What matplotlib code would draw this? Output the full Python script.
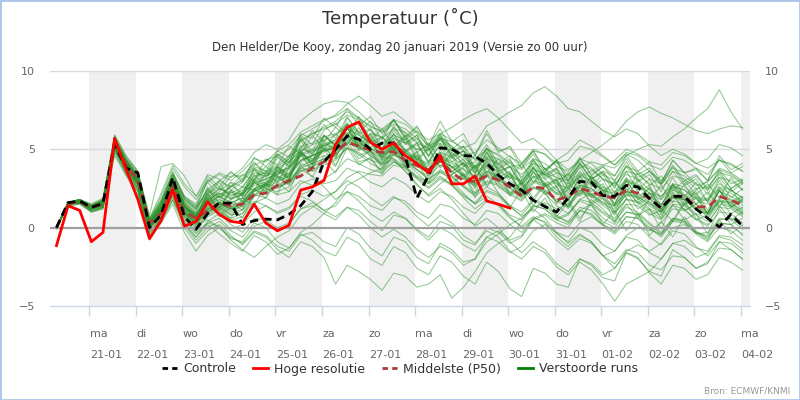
import matplotlib
matplotlib.use("Agg")
import matplotlib.pyplot as plt
import pandas as pd
from matplotlib.patches import Rectangle
from matplotlib.lines import Line2D

# ---------------- data ----------------
times = pd.date_range("2019-01-20 07:00", periods=60, freq="6h")
day_ticks = pd.date_range("2019-01-21", "2019-02-04", freq="D")
day_names = ["ma", "di", "wo", "do", "vr", "za", "zo", "ma", "di", "wo", "do", "vr", "za", "zo", "ma"]
day_dates = ["21-01", "22-01", "23-01", "24-01", "25-01", "26-01", "27-01", "28-01", "29-01",
             "30-01", "31-01", "01-02", "02-02", "03-02", "04-02"]
y_ticks = [-5, 0, 5, 10]

control = [0.0, 1.6, 1.7, 1.3, 1.55, 5.3, 3.8, 3.5, 0.0, 0.8, 3.2, 0.7,
           -0.1, 0.9, 1.6, 1.55, 0.2, 0.45, 0.55, 0.5, 0.85, 1.4, 2.3, 4.2,
           5.0, 5.85, 5.65, 5.0, 5.4, 5.4, 4.5, 1.9, 3.35, 5.1, 5.0, 4.6,
           4.55, 4.1, 3.35, 2.8, 2.4, 1.75, 1.35, 1.0, 1.9, 2.95, 2.9, 2.05,
           2.0, 2.7, 2.6, 1.85, 1.25, 2.0, 2.0, 1.2, 0.6, 0.05, 0.85, 0.1]

hires = [-1.15, 1.4, 1.1, -0.9, -0.3, 5.7, 3.7, 1.8, -0.7, 0.45, 2.4, 0.1,
         0.4, 1.65, 0.85, 0.4, 0.3, 1.5, 0.3, -0.2, 0.15, 2.4, 2.6, 3.0,
         5.3, 6.4, 6.75, 5.45, 5.0, 5.4, 4.6, 4.1, 3.5, 4.6, 2.8, 2.8,
         3.3, 1.7, 1.5, 1.25]

median = [0.0, 1.55, 1.65, 1.3, 1.5, 5.5, 4.0, 3.0, 0.3, 0.9, 2.6, 1.0,
          0.6, 1.1, 1.55, 1.4, 1.5, 2.1, 2.2, 2.7, 3.0, 3.3, 3.8, 4.2,
          4.8, 5.45, 5.2, 4.95, 4.8, 4.85, 4.3, 3.95, 3.7, 4.3, 3.5, 3.0,
          2.95, 3.3, 3.05, 2.6, 2.0, 2.6, 2.5, 1.75, 2.0, 2.5, 2.3, 2.0,
          1.9, 2.4, 2.2, 1.9, 1.25, 2.0, 2.0, 1.35, 1.3, 2.0, 1.75, 1.45]

perturbed_runs = [
 [0.0,1.5,1.7,1.2, 1.6,5.6,4.1,3.2, 0.1,1.0,2.9,1.0, 0.5,1.9,1.2,2.4, 1.7,3.0,2.2,3.6, 3.1,4.6,3.8,5.3, 4.6,6.0,5.1,5.6, 4.4,5.2,3.9,4.6, 3.2,4.5,2.9,3.4, 2.2,3.9,2.6,2.1, 3.0,1.9,2.8,1.6, 2.9,2.1,3.3,2.4, 1.5,2.7,1.8,2.6, 1.0,2.3,1.4,1.9, 0.9,2.4,1.3,1.8],
 [-0.1,1.6,1.7,1.4, 1.8,5.9,4.6,3.6, 0.5,2.0,3.8,2.6, 1.8,2.9,3.4,3.0, 3.6,4.4,4.2,4.9, 5.3,6.1,6.5,6.9, 7.1,7.6,7.0,6.4, 6.2,6.8,6.0,5.4, 5.0,5.8,5.2,4.6, 4.8,5.6,5.1,4.5, 4.1,5.0,4.7,3.9, 3.6,4.4,4.1,3.4, 3.0,3.9,3.6,3.1, 2.8,3.6,3.3,2.7, 2.9,3.8,3.5,3.0],
 [0.0,1.4,1.6,1.0, 1.3,5.0,3.5,2.4, -0.5,0.6,2.0,0.2, -0.8,0.0,0.4,-0.2, -0.6,0.3,0.0,-0.9, -1.3,-0.4,-0.8,-1.5, -1.8,-0.6,-1.0,-2.0, -2.4,-1.2,-1.6,-2.6, -3.0,-1.8,-2.2,-3.1, -3.6,-2.2,-2.8,-3.9, -4.4,-2.6,-2.9,-3.6, -3.8,-2.0,-2.4,-3.2, -3.4,-1.6,-2.0,-2.8, -3.1,-1.4,-1.9,-2.6, -2.3,-0.9,-1.4,-2.0],
 [0.0,1.6,1.8,1.5, 1.9,5.7,4.3,3.3, 0.4,1.6,3.3,1.8, 1.2,2.2,2.6,2.0, 2.4,3.3,3.5,3.9, 4.4,5.2,5.4,5.8, 6.0,6.6,6.1,5.6, 5.3,5.9,5.6,5.0, 4.9,5.7,5.5,5.1, 5.4,6.5,6.9,7.4, 7.8,8.6,9.0,8.4, 7.6,7.4,6.8,6.2, 5.8,6.3,6.0,5.2, 4.6,5.0,4.7,4.1, 3.8,4.3,4.0,3.6],
 [0.0,1.5,1.6,1.3, 1.5,5.2,3.8,2.8, 0.0,1.0,2.6,0.9, 0.3,1.0,1.5,1.2, 1.6,2.4,2.2,2.7, 3.1,3.8,3.6,4.0, 4.3,5.1,4.8,4.3, 4.1,4.7,4.2,3.7, 3.3,4.0,3.6,3.1, 2.7,3.4,3.0,2.6, 2.4,3.2,3.5,3.2, 3.0,3.8,4.2,4.0, 3.8,4.6,5.0,5.3, 5.2,5.8,6.3,7.0, 7.6,8.8,7.4,6.3],
 [0.0,1.6,1.7,1.3, 1.7,5.5,4.0,3.0, 0.2,1.3,3.0,1.3, 0.8,1.9,2.5,2.2, 2.6,3.5,3.3,3.8, 4.2,5.0,4.8,5.2, 5.6,6.3,5.9,5.4, 5.0,5.5,5.0,4.4, 4.0,4.6,4.2,3.7, 3.3,4.0,3.6,3.2, 3.0,3.7,3.4,3.0, 3.4,4.3,4.8,5.3, 5.9,6.8,7.4,7.7, 7.3,7.0,6.6,6.2, 6.0,6.3,6.5,6.4],
 [0.1,1.5,1.7,1.3, 1.4,5.3,3.9,2.9, 0.3,1.1,2.7,1.3, 0.9,2.2,1.0,0.6, 1.9,1.4,2.8,2.1, 3.9,4.8,4.1,5.9, 5.2,6.4,5.0,5.7, 4.3,5.6,4.0,4.9, 3.6,4.8,2.7,3.5, 1.9,3.4,2.2,1.3, 2.4,1.0,1.9,0.7, 1.6,0.4,1.8,1.2, 0.3,1.5,0.6,1.9, 1.2,0.4,1.7,0.6, 0.2,1.4,0.5,1.0],
 [0.0,1.6,1.6,1.2, 1.5,5.4,4.2,3.1, 0.3,1.4,3.1,1.5, 0.6,2.4,1.6,2.9, 2.0,3.7,3.2,4.6, 3.9,5.7,4.9,6.2, 6.7,5.9,7.1,5.6, 6.3,5.2,5.9,4.4, 5.1,3.8,4.6,3.1, 4.0,2.7,3.6,2.0, 2.8,1.4,2.3,0.9, 1.8,0.6,1.5,0.2, 1.1,-0.2,0.9,-0.5, 0.4,-0.6,0.7,-0.3, -0.8,0.5,-0.4,0.2],
 [-0.1,1.5,1.6,1.1, 1.3,5.1,3.7,2.6, -0.2,0.7,2.3,0.7, 0.0,0.8,1.2,0.6, 0.9,2.0,2.9,3.6, 4.4,5.5,6.0,6.3, 6.6,7.2,6.9,6.2, 5.7,6.3,6.1,5.5, 5.0,5.4,4.8,4.1, 3.5,4.1,3.8,3.0, 2.5,3.3,2.9,2.2, 2.6,3.4,3.0,2.4, 2.2,3.0,2.7,2.0, 1.5,2.4,2.1,1.5, 1.9,2.8,2.4,1.9],
 [0.0,1.5,1.6,1.2, 1.4,5.0,3.6,2.5, -0.4,0.5,1.8,0.3, -0.6,0.4,0.9,0.2, -0.3,0.6,0.5,0.0, 0.3,1.2,1.4,0.9, 0.5,1.3,1.1,0.4, -0.2,0.8,0.6,-0.1, -0.6,0.4,0.1,-0.8, -1.1,0.0,-0.3,-1.0, -0.6,0.5,0.8,0.3, 0.0,1.1,1.5,0.9, 0.4,1.3,1.0,0.3, -0.3,0.6,0.4,-0.4, -0.9,0.0,-0.2,-0.8],
 [0.0,1.6,1.8,1.4, 1.7,5.8,4.4,3.4, 0.6,1.8,3.6,2.0, 1.5,3.3,2.6,3.6, 2.9,4.5,3.9,4.7, 4.1,5.8,4.6,5.9, 5.3,6.7,5.6,6.3, 5.0,6.5,5.4,5.9, 4.6,6.0,4.9,5.2, 3.7,5.1,4.0,4.4, 3.1,4.3,3.4,3.8, 2.5,3.9,2.7,3.4, 2.2,3.6,2.4,3.1, 1.8,3.2,2.0,2.9, 1.6,3.0,1.9,2.5],
 [0.0,1.5,1.6,1.2, 1.4,5.1,3.8,2.7, -0.1,0.9,2.4,0.8, 0.2,0.5,0.0,-0.6, -1.0,-0.2,-0.5,-1.2, -1.5,-0.5,-0.3,-0.9, -1.2,0.0,-0.4,-1.3, -1.8,-0.6,-0.9,-1.9, -2.3,-1.0,-1.4,-2.2, -2.0,-0.6,-0.2,-0.8, -0.5,0.6,0.9,0.5, 0.8,1.8,2.2,1.6, 1.4,2.3,2.0,1.5, 1.2,2.0,1.8,1.1, 0.9,1.7,1.5,0.9],
 [0.0,1.6,1.7,1.3, 1.6,5.5,4.1,3.1, 0.3,1.3,3.0,1.4, 0.7,2.1,1.3,1.8, 2.2,3.3,2.6,3.9, 3.3,4.9,4.2,5.8, 5.2,7.0,6.1,6.8, 5.6,6.9,5.8,6.5, 5.2,6.8,5.5,6.0, 4.6,6.2,4.9,5.1, 3.8,4.7,3.5,4.3, 3.0,4.4,3.4,3.9, 3.3,4.6,3.6,4.2, 2.9,4.3,3.5,3.7, 3.0,4.4,3.5,3.9],
 [0.0,1.5,1.7,1.3, 1.5,5.4,4.0,3.0, 0.2,1.2,2.8,1.2, 0.5,1.2,1.6,1.1, 1.4,2.3,2.7,3.0, 3.3,4.3,4.6,4.9, 5.1,5.9,5.5,4.9, 4.3,4.8,4.2,3.5, 2.8,3.3,2.7,1.9, 1.2,1.8,1.4,0.6, 0.1,0.7,0.3,-0.6, -1.2,-0.5,-0.9,-1.8, -2.6,-1.6,-1.9,-2.9, -3.6,-2.4,-2.6,-3.3, -3.0,-1.9,-2.2,-2.7],
 [0.0,1.5,1.6,1.1, 1.3,5.0,3.6,2.5, -0.3,0.6,2.1,0.5, -0.3,0.3,0.6,-0.1, 0.2,1.0,1.4,1.0, 1.3,2.1,2.4,2.0, 2.3,3.0,2.6,1.9, 1.4,2.0,1.5,0.7, 0.1,0.8,0.3,-0.5, -1.0,-0.2,-0.6,-1.5, -2.0,-1.2,-1.6,-2.5, -3.0,-2.2,-2.7,-3.6, -4.7,-3.6,-3.2,-2.8, -2.0,-1.0,-0.8,-1.3, -1.5,-0.5,-0.6,-1.1],
 [0.0,1.6,1.8,1.5, 1.8,5.9,4.5,3.6, 0.6,2.2,4.0,2.8, 2.0,3.0,3.5,3.2, 3.8,4.8,5.3,5.0, 5.6,6.8,7.4,7.9, 8.1,8.0,7.4,6.7, 6.3,6.9,6.6,6.0, 5.2,5.6,5.0,4.3, 3.8,4.4,4.0,3.4, 3.0,3.8,3.4,2.8, 2.5,3.3,3.0,2.4, 2.1,2.9,2.7,2.2, 1.8,2.6,2.4,1.8, 1.5,2.3,2.0,1.6],
 [0.0,1.5,1.7,1.3, 1.6,5.5,4.2,3.2, 0.4,1.6,3.4,1.9, 1.3,2.4,3.0,2.6, 3.1,4.0,4.3,4.6, 5.0,5.9,6.3,6.8, 7.2,7.9,8.4,7.8, 7.1,7.4,6.8,6.1, 5.6,6.0,5.6,4.9, 4.4,5.0,4.6,3.9, 3.4,4.1,3.8,3.2, 2.8,3.5,3.2,2.6, 2.3,3.1,2.8,2.2, 2.0,2.7,2.4,1.9, 1.7,2.5,2.2,1.7],
 [0.0,1.5,1.6,1.1, 1.3,4.8,3.4,2.3, -0.6,0.4,1.7,0.0, -1.0,-0.2,0.2,-0.5, -1.1,-0.3,-0.6,-1.4, -1.9,-0.9,-1.2,-1.9, -3.6,-2.4,-2.8,-3.3, -4.0,-2.9,-3.1,-3.8, -3.6,-3.0,-4.5,-3.8, -2.8,-1.6,-1.0,-0.6, 0.4,1.3,1.6,1.2, 1.5,2.4,2.1,1.6, 1.0,1.8,1.6,0.9, 0.5,1.4,1.2,0.5, 0.8,1.6,1.4,0.9],
 [0.0,1.6,1.7,1.4, 1.7,5.6,4.3,3.3, 0.4,1.5,3.2,1.7, 1.1,2.5,1.6,1.2, 2.3,3.1,3.9,3.3, 4.6,5.0,6.2,5.5, 6.4,5.8,6.8,5.4, 5.8,4.9,5.7,4.3, 5.0,3.9,4.8,3.3, 3.9,2.6,3.5,2.2, 2.9,1.7,2.8,1.5, 2.5,2.0,3.1,2.3, 2.9,2.2,3.5,2.7, 3.3,2.4,3.0,2.1, 2.8,1.9,3.2,2.4],
 [0.0,1.5,1.6,1.2, 1.4,5.2,3.9,2.8, 0.0,1.0,2.5,0.9, 0.3,1.3,2.1,2.6, 3.0,3.9,3.6,3.2, 2.8,3.6,3.9,4.4, 4.9,5.6,5.2,4.6, 4.1,4.4,3.9,3.2, 2.6,3.2,2.8,2.1, 1.5,2.3,2.0,1.3, 0.8,1.7,1.4,0.7, 0.4,1.3,1.1,0.4, 0.0,1.0,0.9,0.2, -0.4,0.6,0.5,-0.2, -0.7,0.3,0.2,-0.5],
 [0.0,1.6,1.7,1.3, 1.6,5.5,4.0,3.0, 0.2,1.2,2.9,1.3, 0.7,2.0,2.9,1.8, 2.6,2.4,3.5,2.9, 4.2,4.9,4.0,5.1, 4.5,5.8,4.6,4.9, 4.0,5.5,4.4,4.8, 3.6,5.0,3.8,4.1, 2.7,4.2,3.0,3.3, 2.3,3.9,2.6,2.9, 1.7,3.3,2.1,2.6, 1.5,3.1,1.8,2.2, 1.1,2.6,1.5,2.0, 0.9,2.4,1.3,1.7],
 [0.0,1.5,1.6,1.2, 1.5,5.3,3.9,2.9, 0.1,1.1,2.6,1.0, 0.4,1.1,1.6,1.3, 1.6,2.5,2.8,2.6, 2.9,3.7,3.3,2.6, 1.8,2.3,1.7,0.9, 0.4,1.0,0.6,-0.2, -0.8,0.0,-0.4,-1.1, -1.5,-0.6,-0.9,-1.6, -1.2,-0.2,0.2,-0.3, -0.6,0.3,0.7,0.2, -0.3,0.7,0.6,-0.1, -0.4,0.5,0.4,-0.3, -0.6,0.3,0.2,-0.4],
 [0.0,1.6,1.7,1.3, 1.6,5.4,4.0,3.0, 0.2,1.3,3.0,1.5, 0.9,1.8,2.2,1.9, 2.1,3.0,3.3,3.6, 3.8,4.7,4.4,4.8, 5.2,5.8,5.4,5.0, 4.7,5.3,4.9,4.4, 4.1,4.8,4.5,4.0, 3.8,4.6,4.4,3.9, 4.0,4.9,4.7,4.1, 4.3,5.2,5.0,4.5, 4.0,4.8,4.6,4.0, 3.7,4.5,4.3,3.8, 3.4,4.3,4.1,3.6],
 [0.0,1.5,1.7,1.4, 1.6,5.6,4.2,3.1, 0.3,1.4,3.1,1.6, 0.9,1.8,0.7,1.3, 0.6,2.1,1.9,3.3, 3.0,4.8,4.2,5.6, 5.0,6.4,5.2,5.8, 4.7,6.0,4.9,5.4, 4.2,5.7,4.5,4.9, 3.5,4.8,3.6,3.9, 2.6,3.8,2.7,3.0, 1.7,2.9,1.9,2.3, 1.0,2.5,1.6,2.2, 1.4,2.8,2.0,2.5, 1.7,3.2,2.3,2.8],
 [0.0,1.6,1.7,1.2, 1.5,5.3,3.9,2.8, 0.0,0.9,2.5,0.8, 0.1,1.4,0.8,1.6, 1.1,2.5,1.9,2.9, 2.3,4.0,3.2,4.6, 3.9,5.5,4.4,4.9, 3.8,5.2,4.3,4.7, 3.4,4.7,3.5,4.2, 3.1,4.4,3.2,3.6, 2.1,3.6,2.3,2.7, 1.2,2.6,1.5,1.9, 0.4,1.9,0.8,1.2, -0.1,1.5,0.5,0.9, -0.4,1.2,0.2,0.6],
 [0.0,1.5,1.7,1.3, 1.7,5.7,4.4,3.5, 0.8,3.9,4.1,3.3, 2.0,3.4,3.1,2.4, 2.1,2.9,2.5,2.1, 2.3,3.0,2.7,3.1, 3.6,4.4,4.1,3.7, 3.5,4.2,3.9,3.3, 2.9,3.6,3.3,2.7, 2.2,3.0,2.8,2.2, 1.8,2.6,2.4,1.8, 1.4,2.3,2.1,1.5, 1.2,2.1,2.0,1.4, 1.0,1.9,1.8,1.2, 0.9,1.8,1.6,1.1],
 [0.0,1.4,1.5,1.0, 1.2,4.6,3.3,2.1, -0.8,0.3,1.5,-0.3, -1.5,-0.5,0.0,-0.7, -0.9,0.1,0.4,-0.2, 0.2,1.2,1.6,1.1, 1.4,2.3,2.0,1.4, 1.1,1.9,1.7,1.0, 0.6,1.5,1.3,0.6, 0.2,1.1,0.9,0.2, -0.3,0.6,0.4,-0.4, -0.9,0.0,-0.3,-1.1, -1.5,-0.6,-0.8,-1.6, -2.0,-1.0,-1.2,-1.9, -1.6,-0.6,-0.8,-1.4],
 [0.0,1.6,1.8,1.4, 1.7,5.6,4.2,3.2, 0.3,1.6,3.5,2.0, 1.4,2.9,2.0,2.6, 3.4,3.0,4.4,4.0, 5.2,4.7,5.9,5.0, 6.0,5.3,6.4,5.1, 5.8,5.0,5.9,4.8, 5.4,4.3,5.1,3.9, 4.6,3.5,4.4,3.1, 4.1,2.9,3.8,2.6, 3.5,2.3,3.3,2.1, 3.0,1.9,3.1,1.8, 2.7,1.6,2.8,1.5, 2.3,1.3,2.5,1.4],
 [0.0,1.5,1.7,1.3, 1.5,5.4,4.0,3.0, 0.1,1.1,2.8,1.1, 0.5,1.5,2.0,1.6, 1.9,2.7,2.9,3.4, 3.9,4.9,5.3,5.6, 5.9,6.5,6.0,5.4, 4.5,4.4,3.6,2.7, 2.1,2.8,3.4,3.9, 4.2,5.0,4.7,4.1, 3.7,4.4,4.1,3.5, 3.2,4.0,3.7,3.1, 2.8,3.6,3.4,2.8, 2.5,3.3,3.1,2.5, 2.6,3.5,3.3,2.8],
 [0.0,1.5,1.6,1.2, 1.4,5.2,3.8,2.8, 0.0,1.0,2.6,1.0, 0.3,1.0,1.3,0.8, 1.1,2.0,2.4,2.6, 2.9,3.8,4.1,4.4, 4.6,5.4,5.1,4.6, 4.0,4.3,3.6,2.8, 2.0,2.5,1.8,0.9, 0.1,0.6,0.0,-0.9, -1.6,-0.9,-1.4,-2.3, -2.8,-2.0,-2.3,-3.0, -2.6,-1.5,-1.1,-1.5, -1.0,0.0,0.2,-0.3, -0.5,0.5,0.6,0.1],
 [0.0,1.6,1.7,1.3, 1.6,5.5,4.1,3.1, 0.2,1.2,2.9,1.3, 0.6,2.2,1.5,2.3, 2.0,3.4,2.7,3.9, 3.1,4.7,4.0,5.4, 5.0,6.6,5.3,6.0, 5.8,6.9,5.7,6.4, 5.3,6.3,5.0,5.6, 4.6,6.0,4.8,5.2, 4.1,4.9,3.7,4.2, 3.0,4.1,3.1,3.6, 3.3,4.4,3.4,3.8, 2.8,4.0,3.0,3.4, 2.5,3.7,2.8,3.1],
 [0.0,1.5,1.6,1.2, 1.4,5.1,3.7,2.7, -0.1,0.8,2.3,0.6, -0.2,0.7,1.1,0.5, 0.7,1.6,1.9,1.5, 1.8,2.8,3.1,2.8, 3.0,3.8,3.5,2.9, 2.6,3.2,2.8,2.1, 1.6,2.3,2.0,1.3, 0.9,1.7,1.5,0.8, 0.5,1.4,1.2,0.5, 0.2,1.1,0.9,0.2, -0.2,0.7,0.6,-0.1, -0.5,0.4,0.3,-0.4, -0.3,0.6,0.5,-0.1],
 [0.0,1.6,1.7,1.3, 1.6,5.5,4.1,3.1, 0.3,1.4,3.1,1.5, 0.8,1.7,2.2,1.8, 2.1,2.9,3.1,3.5, 3.8,4.7,5.0,5.3, 5.6,6.3,5.9,5.4, 5.1,5.7,5.4,5.0, 5.2,6.0,6.4,6.9, 7.3,7.6,7.0,6.2, 5.4,5.7,5.1,4.3, 3.7,4.2,3.8,3.1, 2.7,3.4,3.1,2.4, 2.0,2.8,2.6,2.0, 1.8,2.6,2.4,1.9],
 [0.0,1.5,1.7,1.3, 1.5,5.3,3.9,2.9, 0.1,1.0,2.6,0.9, 0.2,1.0,1.4,0.9, 1.2,2.1,2.5,2.3, 2.6,3.6,3.9,4.2, 4.4,5.1,4.7,4.1, 3.7,4.2,3.8,3.1, 2.5,3.1,2.7,2.0, 1.6,2.4,2.1,1.4, 1.0,1.8,1.5,0.8, 0.3,1.1,0.8,0.1, -0.4,0.4,0.2,-0.6, -1.1,-0.2,-0.4,-1.2, -1.8,-0.9,-1.0,-1.6],
 [0.0,1.6,1.8,1.4, 1.8,5.7,4.3,3.3, 0.5,1.7,3.4,1.9, 1.3,2.4,1.9,2.7, 2.2,3.8,3.0,4.5, 3.9,5.6,4.3,5.0, 4.0,5.3,4.2,4.4, 3.6,5.1,4.1,4.6, 3.4,4.8,3.6,4.1, 3.0,4.5,3.4,3.9, 2.8,4.3,3.2,3.7, 2.6,4.1,3.1,3.5, 2.5,4.0,3.2,3.6, 2.8,4.3,3.5,3.8, 3.0,4.6,3.7,4.1],
 [0.0,1.5,1.6,1.2, 1.4,5.2,3.8,2.8, 0.0,1.0,2.6,0.9, 0.3,1.1,1.5,1.0, 1.4,2.3,2.6,2.9, 3.3,4.2,4.6,4.9, 5.2,5.9,5.5,4.9, 4.6,5.2,4.8,4.3, 3.7,4.3,3.9,3.2, 2.6,3.3,2.9,2.3, 2.0,2.8,3.6,4.3, 4.8,5.6,5.2,4.6, 4.0,4.7,4.3,3.6, 3.0,3.8,3.5,2.8, 2.4,3.2,3.0,2.4],
 [0.0,1.6,1.7,1.3, 1.6,5.4,4.0,3.0, 0.2,1.2,2.8,1.2, 0.6,1.7,2.5,2.1, 2.2,3.1,3.6,4.0, 4.6,5.6,6.0,6.4, 6.8,7.4,7.0,6.5, 6.1,6.6,6.3,5.7, 5.0,5.6,5.2,4.5, 3.9,4.5,4.1,3.4, 2.8,3.5,3.1,2.4, 1.9,2.7,2.5,1.8, 1.3,2.1,1.9,1.2, 0.8,1.7,1.5,0.9, 0.6,1.5,1.3,0.8],
 [0.0,1.4,1.5,1.0, 1.2,4.8,3.4,2.3, -0.7,0.4,1.8,0.2, -0.6,0.2,-0.4,-1.0, -1.5,-0.5,-0.9,-1.7, -1.3,-0.3,0.2,0.9, 1.6,2.7,3.1,3.5, 3.8,4.6,4.4,3.9, 3.5,4.2,3.9,3.3, 2.8,3.6,3.3,2.7, 2.2,3.0,2.8,2.2, 1.8,2.7,2.5,1.9, 1.4,2.3,2.2,1.6, 1.0,1.9,1.8,1.2, 0.8,1.7,1.6,1.0],
 [0.0,1.5,1.7,1.3, 1.5,5.4,4.0,3.0, 0.2,1.3,3.0,1.4, 0.8,1.6,2.3,2.9, 2.6,3.7,2.8,3.3, 2.7,4.1,3.8,5.1, 4.4,6.0,4.9,5.5, 4.5,5.8,4.8,5.3, 4.1,5.4,4.2,4.7, 3.4,4.9,3.7,4.2, 2.8,4.1,3.1,3.5, 2.2,3.6,2.6,3.1, 1.8,3.2,2.3,2.7, 1.4,2.8,1.9,2.3, 1.1,2.6,1.7,2.0],
 [0.0,1.6,1.7,1.3, 1.6,5.5,4.1,3.1, 0.3,1.3,3.0,1.4, 0.7,1.6,2.0,1.6, 1.9,2.8,3.1,3.4, 3.7,4.6,4.9,5.2, 5.5,6.1,5.7,5.1, 4.6,5.0,4.4,3.7, 3.1,3.6,3.0,2.2, 1.5,2.0,1.5,0.7, 0.0,0.5,0.0,-0.8, -1.4,-0.7,-1.0,-1.8, -2.3,-1.4,-1.6,-2.4, -2.7,-1.8,-1.9,-2.6, -2.2,-1.3,-1.4,-2.0],
 [0.0,1.5,1.6,1.2, 1.5,5.3,3.9,2.9, 0.1,1.1,2.7,1.1, 0.5,1.9,1.1,1.7, 1.3,2.9,2.3,3.7, 3.1,4.7,3.6,4.3, 3.5,5.1,4.0,4.5, 3.4,4.8,3.9,4.2, 2.9,4.4,3.4,3.8, 2.5,4.0,2.9,3.5, 2.1,3.6,2.6,3.1, 1.8,3.3,2.3,2.8, 1.5,3.0,2.0,2.5, 1.2,2.7,1.7,2.2, 0.9,2.4,1.6,1.9],
 [0.0,1.5,1.7,1.3, 1.5,5.4,4.0,3.0, 0.2,1.2,2.8,1.2, 0.6,1.4,1.8,1.4, 1.7,2.5,2.8,3.2, 3.5,4.3,4.6,4.9, 5.1,5.7,5.3,4.8, 4.5,5.1,4.8,4.3, 3.9,4.5,4.1,3.4, 2.9,3.6,3.2,2.5, 1.9,2.6,2.2,1.4, 0.9,1.7,1.4,0.6, 0.2,1.0,0.8,0.0, -0.6,0.4,1.5,2.4, 3.0,3.7,3.4,2.9],
 [0.0,1.6,1.7,1.3, 1.6,5.6,4.2,3.2, 0.4,1.5,3.2,1.6, 1.0,2.6,1.9,2.4, 2.9,3.8,3.4,4.7, 4.2,5.9,5.3,6.6, 5.7,7.1,6.0,6.3, 5.3,6.4,5.4,5.9, 4.5,5.8,4.6,4.9, 3.6,4.8,3.6,3.9, 2.7,3.9,2.8,3.1, 2.0,3.1,2.0,2.4, 1.4,2.5,1.5,1.9, 0.9,2.1,1.1,1.5, 0.6,1.8,0.9,1.3],
 [0.0,1.5,1.6,1.2, 1.4,5.2,3.8,2.8, 0.0,1.0,2.6,1.0, 0.3,1.2,1.6,1.2, 1.5,2.4,2.8,3.1, 3.4,4.3,4.6,5.0, 5.3,6.0,5.6,5.1, 4.7,5.2,4.8,4.2, 3.7,4.3,3.9,3.3, 2.8,3.5,3.1,2.5, 2.1,2.9,2.7,2.1, 2.4,3.3,3.6,4.0, 4.3,5.0,4.7,4.2, 4.0,4.8,4.6,4.1, 4.4,5.3,5.1,4.6],
 [0.0,1.5,1.6,1.2, 1.4,5.1,3.7,2.7, -0.1,0.9,2.4,0.7, 0.0,0.9,1.3,0.8, 0.9,1.7,1.4,0.9, 1.2,2.0,1.7,1.1, 0.7,1.3,0.8,0.0, -0.6,-0.1,-0.6,-1.4, -1.9,-1.2,-1.6,-2.4, -2.0,-0.9,-0.4,0.2, 0.6,1.4,1.2,0.6, 0.9,1.8,1.6,1.0, 0.6,1.5,1.4,0.8, 1.1,2.0,1.9,1.3, 1.0,1.9,1.8,1.2],
 [0.0,1.6,1.8,1.4, 1.7,5.7,4.3,3.3, 0.5,1.7,3.4,1.8, 1.2,3.1,2.4,3.3, 3.3,4.1,3.6,4.9, 4.5,6.0,5.7,7.0, 6.4,7.6,6.5,7.1, 6.0,6.9,5.6,6.2, 5.1,5.9,4.6,5.2, 4.3,5.3,4.1,4.6, 3.8,4.9,3.7,4.3, 3.3,4.5,3.3,3.9, 3.0,4.2,3.0,3.6, 2.7,3.9,2.8,3.3, 2.4,3.6,2.5,3.0],
 [0.0,1.5,1.6,1.2, 1.5,5.3,3.9,2.9, 0.1,1.1,2.7,1.0, 0.4,1.2,1.6,1.2, 1.5,2.4,2.7,2.5, 2.9,3.9,4.3,4.6, 4.8,5.5,5.2,4.7, 4.2,4.7,4.3,3.7, 3.1,3.7,3.3,2.6, 2.0,2.6,2.2,1.4, 0.7,1.2,0.6,-0.3, -1.0,-0.4,-0.9,-1.8, -1.5,-0.5,0.0,-0.2, 0.3,1.2,1.1,0.5, 0.1,1.0,0.9,0.3],
 [0.0,1.6,1.7,1.3, 1.6,5.5,4.1,3.1, 0.3,1.3,3.0,1.4, 0.7,2.2,3.0,3.5, 3.1,4.2,3.3,3.9, 3.4,5.2,4.7,5.9, 5.3,6.6,5.6,6.0, 5.0,6.2,5.3,5.7, 4.6,5.7,4.4,4.9, 3.9,5.1,3.8,4.3, 3.2,4.4,3.3,3.8, 2.9,4.1,3.1,3.6, 2.6,3.9,2.9,3.4, 2.3,3.6,2.7,3.1, 2.1,3.4,2.5,2.9],
 [0.0,1.5,1.6,1.1, 1.3,5.0,3.6,2.5, -0.3,0.6,2.0,0.4, -0.4,0.3,0.1,-0.8, -1.4,-1.9,-1.2,-0.6, -0.2,0.8,1.3,1.8, 2.3,3.2,3.6,3.4, 3.3,4.0,3.8,3.2, 2.8,3.5,3.2,2.6, 2.1,2.9,2.7,2.1, 1.7,2.5,2.3,1.7, 1.3,2.2,2.0,1.4, 0.9,1.8,1.7,1.1, 0.6,1.5,1.4,0.8, 0.4,1.3,1.2,0.7],
 [0.0,1.6,1.7,1.3, 1.6,5.4,4.0,3.0, 0.2,1.2,2.9,1.3, 0.7,2.0,1.3,2.3, 1.6,3.1,2.5,3.8, 3.2,4.9,4.0,5.5, 4.8,6.4,5.2,5.9, 4.9,6.0,4.9,5.4, 4.2,5.3,3.8,4.4, 3.0,4.3,3.0,3.4, 2.0,3.3,2.1,2.6, 1.3,2.7,1.6,2.1, 0.8,2.3,1.2,1.7, 0.6,2.2,1.1,1.5, 0.9,2.4,1.4,1.8],
]

# ---------------- styling ----------------
TXT = "#333333"
LBL = "#666666"
AXC = "#ccd6eb"

fig = plt.figure(figsize=(8, 4), dpi=100)
ax = fig.add_axes([50 / 800, 1 - 306 / 400, 700 / 800, 235 / 400])

x_left = pd.Timestamp("2019-01-20 03:40")
x_right = pd.Timestamp("2019-02-04 04:50")
ax.set_xlim(x_left, x_right)
ax.set_ylim(-5, 10)

# alternating day bands
for k, d in enumerate(day_ticks):
    if k % 2 == 0:
        ax.axvspan(d, min(d + pd.Timedelta(days=1), x_right), color="#f0f0f0", lw=0, zorder=0)

for yv in [5, 10]:
    ax.axhline(yv, color="#d9d9d9", lw=1, zorder=0.5)
ax.axhline(0, color="#a0a0a0", lw=1.6, zorder=2.5)

for run in perturbed_runs:
    ax.plot(times, run, color="#2a922a", lw=0.75, alpha=0.5, zorder=2)

ax.plot(times, median, color="#b03a3a", lw=2, ls=(0, (3, 1.8)), zorder=3)
ax.plot(times, control, color="black", lw=2, ls=(0, (3, 1.8)), zorder=4)
ax.plot(times[:len(hires)], hires, color="#ff0000", lw=2, zorder=5)

for s in ["top", "left", "right"]:
    ax.spines[s].set_visible(False)
ax.spines["bottom"].set_color(AXC)
ax.spines["bottom"].set_linewidth(1)
ax.spines["bottom"].set_zorder(6)

ax.set_yticks(y_ticks)
ax.set_yticklabels([str(v).replace("-", "\u2212") for v in y_ticks])
ax.tick_params(axis="y", length=0, pad=11, labelsize=8, labelcolor=LBL,
               labelleft=True, labelright=True)

ax.set_xticks(day_ticks)
ax.set_xticklabels([])
ax.tick_params(axis="x", length=7, width=1, color=AXC)
for d, nm, dt in zip(day_ticks, day_names, day_dates):
    ax.annotate(nm, xy=(d, 0), xycoords=("data", "axes fraction"), xytext=(0.3, -20),
                textcoords="offset points", ha="left", va="center", fontsize=8, color=LBL)
    ax.annotate(dt, xy=(d, 0), xycoords=("data", "axes fraction"), xytext=(0.3, -35),
                textcoords="offset points", ha="left", va="center", fontsize=8, color=LBL)

fig.text(0.5, 1 - 18 / 400, "Temperatuur (\u02daC)", ha="center", va="center",
         fontsize=13, color=TXT)
fig.text(0.5, 1 - 47 / 400, "Den Helder/De Kooy, zondag 20 januari 2019 (Versie zo 00 uur)",
         ha="center", va="center", fontsize=8.5, color=TXT)

handles = [
    Line2D([], [], color="black", lw=2, ls=(0, (2, 1.5))),
    Line2D([], [], color="#ff0000", lw=2),
    Line2D([], [], color="#b03a3a", lw=2, ls=(0, (2, 1.5))),
    Line2D([], [], color="#008000", lw=2),
]
leg = fig.legend(handles, ["Controle", "Hoge resolutie", "Middelste (P50)", "Verstoorde runs"],
                 loc="center", bbox_to_anchor=(0.5, 1 - 369 / 400), ncol=4, frameon=False,
                 fontsize=9, handlelength=1.2, handletextpad=0.45, columnspacing=1.4)
for t in leg.get_texts():
    t.set_color(TXT)

fig.text(1 - 10 / 800, 1 - 391 / 400, "Bron: ECMWF/KNMI", ha="right", va="center",
         fontsize=6.5, color="#999999")

fig.patches.append(Rectangle((0, 0), 1, 1, transform=fig.transFigure, fill=False,
                             edgecolor="#a9c6ea", lw=2))

fig.savefig("out.png", dpi=100)
